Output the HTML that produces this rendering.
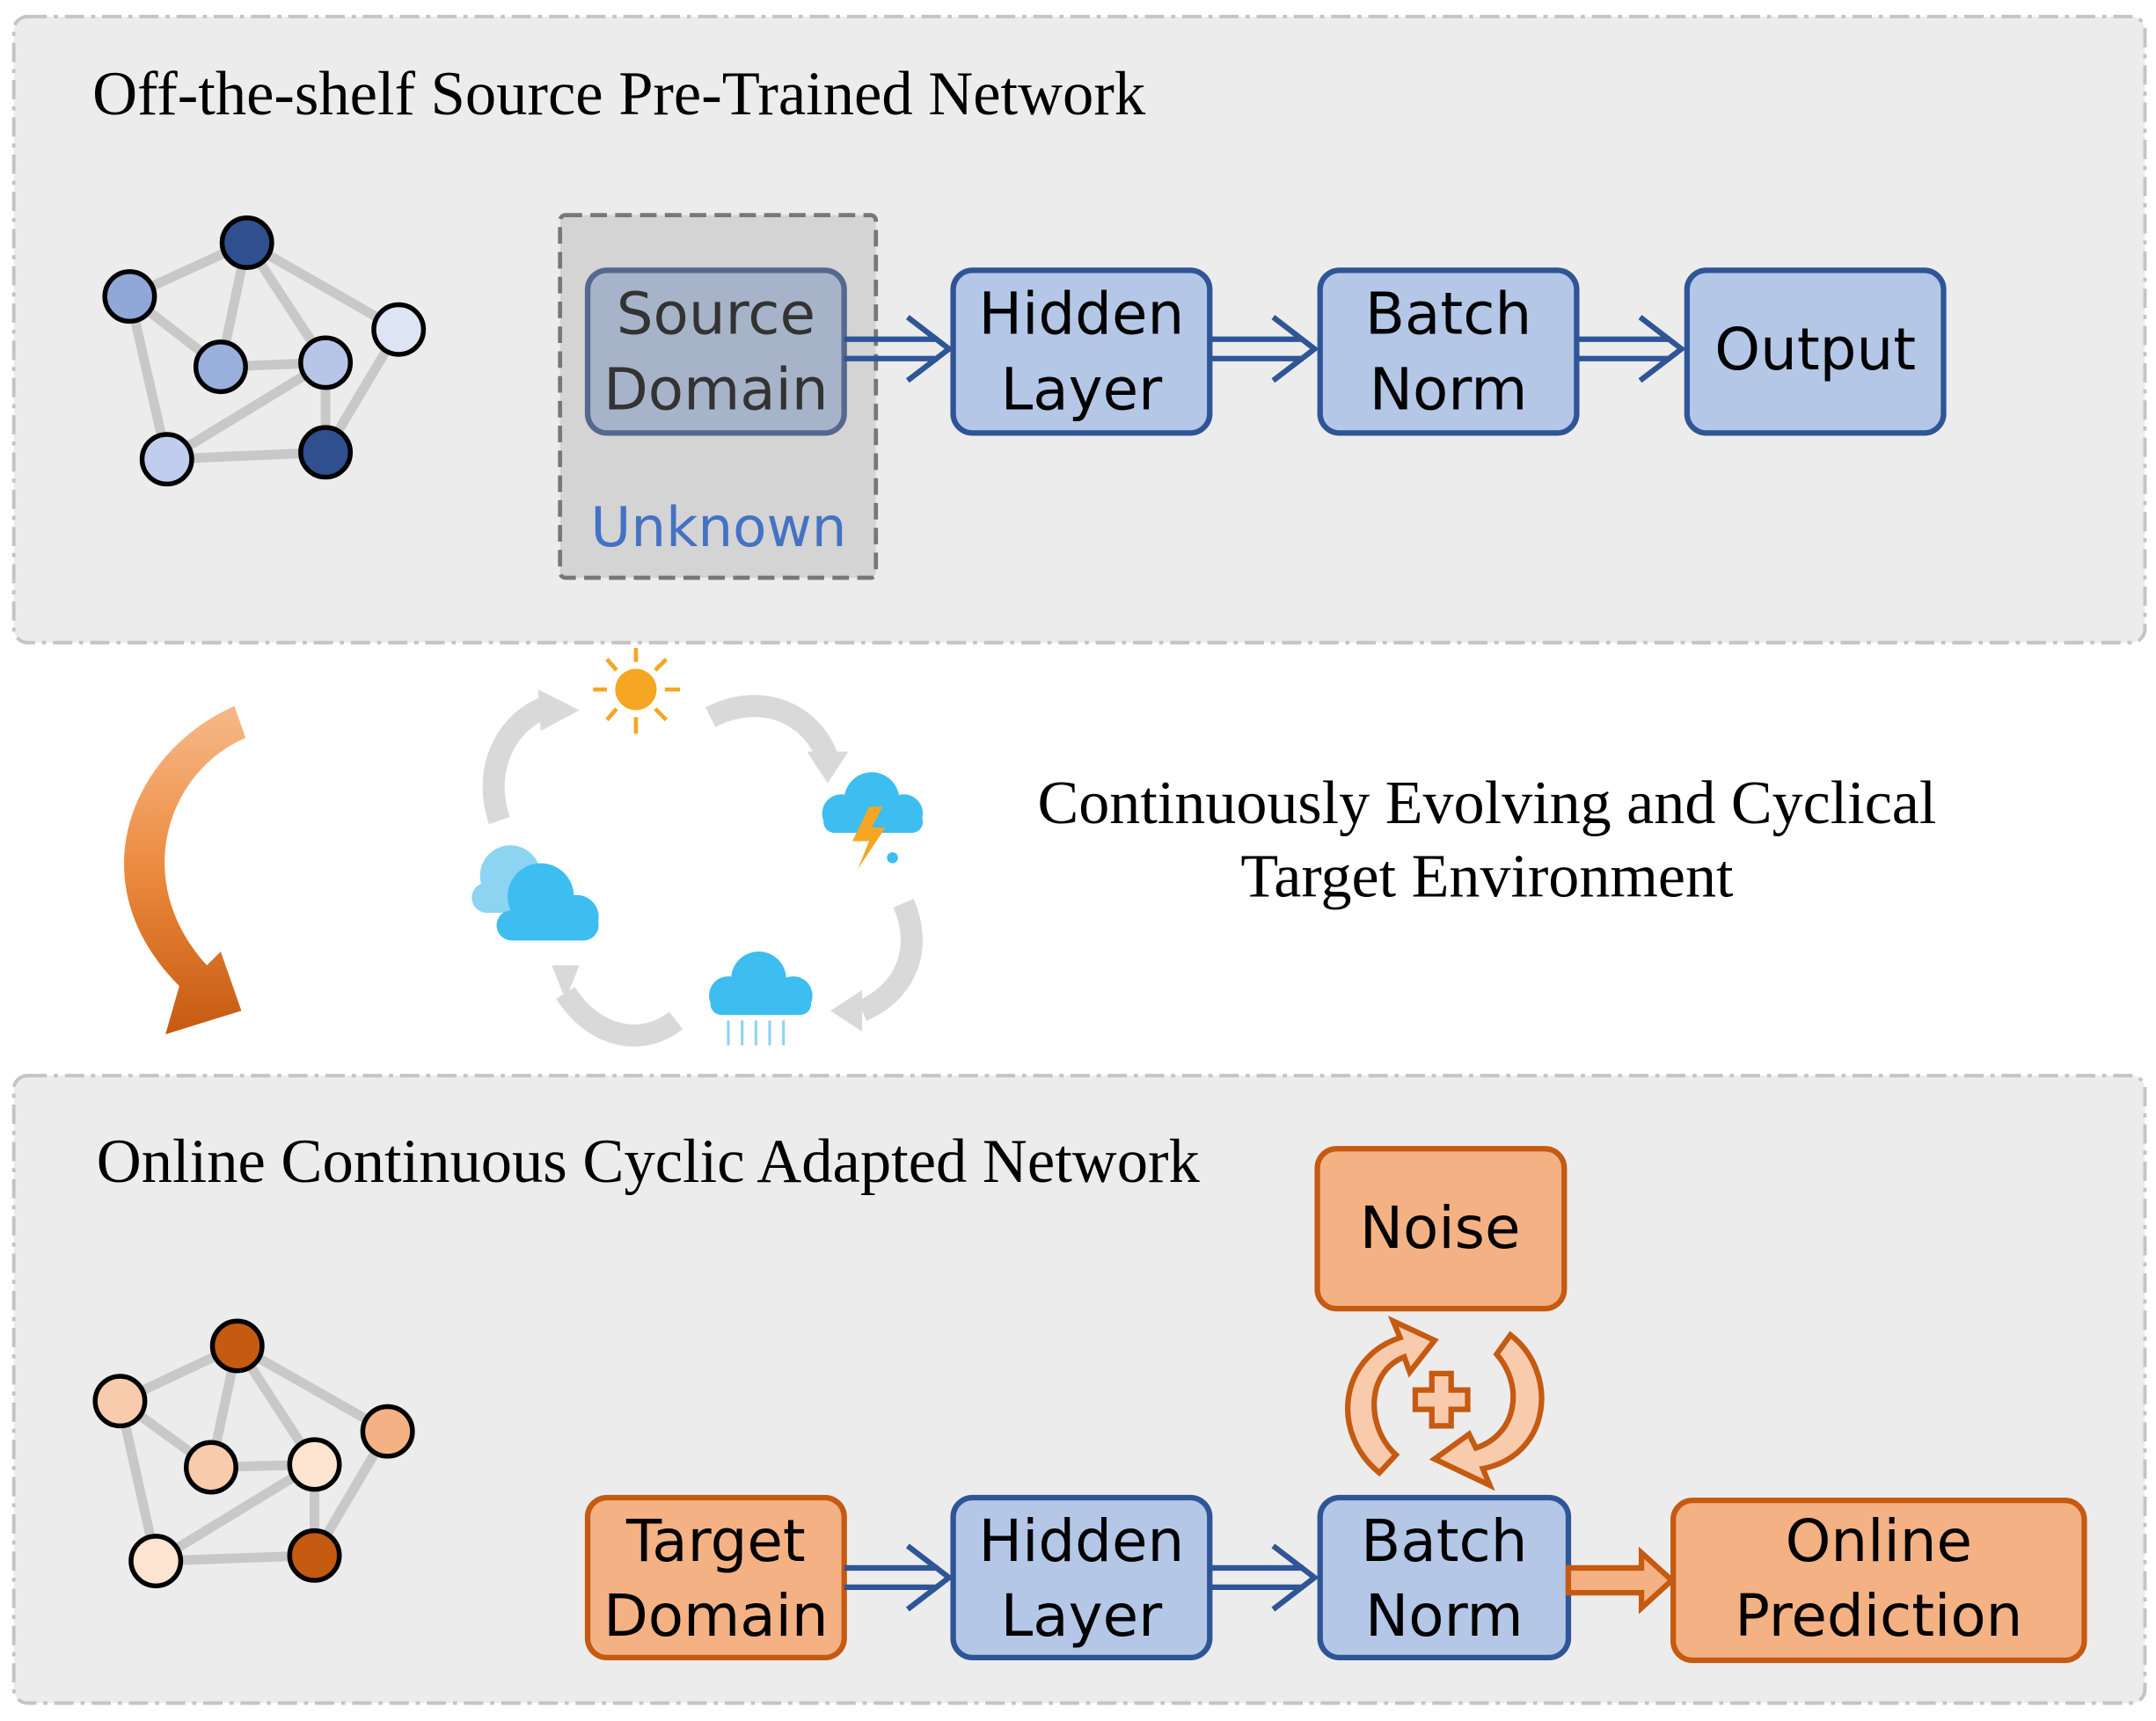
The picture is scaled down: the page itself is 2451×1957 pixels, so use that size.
<!DOCTYPE html>
<html><head><meta charset="utf-8"><style>
html,body{margin:0;padding:0;background:#fff}
svg{display:block}
.t{font-family:"Liberation Serif",serif;fill:#000}
.b{font-family:"DejaVu Sans","Liberation Sans",sans-serif;font-size:42px;fill:#000;text-anchor:middle}
</style></head><body>
<svg width="2451" height="1957" viewBox="0 0 1563 1248" preserveAspectRatio="none" xmlns="http://www.w3.org/2000/svg">
<defs>
<linearGradient id="og" x1="0" y1="0" x2="0" y2="1"><stop offset="0" stop-color="#f6b98a"/><stop offset="0.5" stop-color="#ec8a3d"/><stop offset="1" stop-color="#c55a11"/></linearGradient>
</defs>
<!-- panels -->
<rect x="10" y="12" width="1545" height="454" rx="10" fill="#ececec" stroke="#c4c4c4" stroke-width="2.5" stroke-dasharray="14 5 3 5"/>
<rect x="10" y="780" width="1545" height="455" rx="10" fill="#ececec" stroke="#c4c4c4" stroke-width="2.5" stroke-dasharray="14 5 3 5"/>
<text class="t" x="67" y="83" font-size="45">Off-the-shelf Source Pre-Trained Network</text>
<text class="t" x="70" y="857" font-size="45">Online Continuous Cyclic Adapted Network</text>

<!-- top graph -->
<g stroke="#c8c8c8" stroke-width="7">
<line x1="94" y1="215" x2="179" y2="176"/><line x1="179" y1="176" x2="289" y2="239"/><line x1="179" y1="176" x2="160" y2="266"/><line x1="179" y1="176" x2="236" y2="263"/><line x1="94" y1="215" x2="160" y2="266"/><line x1="94" y1="215" x2="121" y2="333"/><line x1="160" y1="266" x2="236" y2="263"/><line x1="289" y1="239" x2="236" y2="328"/><line x1="121" y1="333" x2="236" y2="328"/><line x1="121" y1="333" x2="236" y2="263"/><line x1="236" y1="263" x2="236" y2="328"/>
</g>
<g stroke="#000" stroke-width="3.5">
<circle cx="179" cy="176" r="18" fill="#2f4f8f"/><circle cx="94" cy="215" r="18" fill="#8fa8d8"/><circle cx="289" cy="239" r="18" fill="#dde4f4"/><circle cx="160" cy="266" r="18" fill="#9ab0dc"/><circle cx="236" cy="263" r="18" fill="#b7c6e8"/><circle cx="121" cy="333" r="18" fill="#c0cdee"/><circle cx="236" cy="328" r="18" fill="#2f4f8f"/>
</g>

<!-- bottom graph -->
<g stroke="#c8c8c8" stroke-width="7">
<line x1="87" y1="1016" x2="172" y2="976"/><line x1="172" y1="976" x2="281" y2="1038"/><line x1="172" y1="976" x2="153" y2="1064"/><line x1="172" y1="976" x2="228" y2="1062"/><line x1="87" y1="1016" x2="153" y2="1064"/><line x1="87" y1="1016" x2="113" y2="1132"/><line x1="153" y1="1064" x2="228" y2="1062"/><line x1="281" y1="1038" x2="228" y2="1128"/><line x1="113" y1="1132" x2="228" y2="1128"/><line x1="113" y1="1132" x2="228" y2="1062"/><line x1="228" y1="1062" x2="228" y2="1128"/>
</g>
<g stroke="#000" stroke-width="3.5">
<circle cx="172" cy="976" r="18" fill="#c55a11"/><circle cx="87" cy="1016" r="18" fill="#f8cbad"/><circle cx="281" cy="1038" r="18" fill="#f4b183"/><circle cx="153" cy="1064" r="18" fill="#f8cbad"/><circle cx="228" cy="1062" r="18" fill="#fde4d0"/><circle cx="113" cy="1132" r="18" fill="#fde4d0"/><circle cx="228" cy="1128" r="18" fill="#c55a11"/>
</g>

<!-- unknown box -->
<rect x="406" y="156" width="229" height="263" rx="4" fill="#d4d4d4" stroke="#777" stroke-width="3" stroke-dasharray="12 6"/>
<rect x="426" y="196" width="186" height="118" rx="14" fill="#a7b3c9" stroke="#55688f" stroke-width="4"/>
<text class="b" x="519" y="242" style="fill:#333">Source</text>
<text class="b" x="519" y="297" style="fill:#333">Domain</text>
<text class="b" x="521" y="396" style="fill:#4472c4;font-size:40px">Unknown</text>

<!-- boxes -->
<g fill="#b4c7e7" stroke="#2f5597" stroke-width="4">
<rect x="691" y="196" width="186" height="118" rx="14"/>
<rect x="957" y="196" width="186" height="118" rx="14"/>
<rect x="1223" y="196" width="186" height="118" rx="14"/>
<rect x="691" y="1086" width="186" height="116" rx="14"/>
<rect x="957" y="1086" width="180" height="116" rx="14"/>
</g>
<text class="b" x="784" y="242">Hidden</text><text class="b" x="784" y="297">Layer</text>
<text class="b" x="1050" y="242">Batch</text><text class="b" x="1050" y="297">Norm</text>
<text class="b" x="1316" y="268">Output</text>
<text class="b" x="784" y="1132">Hidden</text><text class="b" x="784" y="1186">Layer</text>
<text class="b" x="1047" y="1132">Batch</text><text class="b" x="1047" y="1186">Norm</text>

<g fill="#f4b183" stroke="#c55a11" stroke-width="4">
<rect x="426" y="1086" width="186" height="116" rx="14"/>
<rect x="1213" y="1088" width="298" height="116" rx="14"/>
<rect x="955" y="833" width="179" height="116" rx="14"/>
</g>
<text class="b" x="519" y="1132">Target</text><text class="b" x="519" y="1186">Domain</text>
<text class="b" x="1362" y="1132">Online</text><text class="b" x="1362" y="1186">Prediction</text>
<text class="b" x="1044" y="905">Noise</text>

<!-- double arrows -->
<g fill="none" stroke="#2f5597" stroke-width="4">
<path d="M612 246H680M612 260H680M658 230L688 253L658 276"/>
<path d="M877 246H945M877 260H945M923 230L953 253L923 276"/>
<path d="M1143 246H1211M1143 260H1211M1189 230L1219 253L1189 276"/>
<path d="M612 1137H680M612 1151H680M658 1121L688 1144L658 1167"/>
<path d="M877 1137H945M877 1151H945M923 1121L953 1144L923 1167"/>
</g>
<path d="M1137 1137H1190V1126L1212 1146L1190 1166V1155H1137Z" fill="#f4b183" stroke="#c55a11" stroke-width="4"/>

<!-- noise cycle arrows -->
<path d="M1000 1068 C965 1040 970 985 1015 970 L1010 958 L1040 972 L1022 995 L1018 984 C990 995 990 1035 1012 1055 Z" fill="#f8cbad" stroke="#c55a11" stroke-width="4"/>
<path d="M1095 968 C1130 995 1125 1055 1075 1065 L1080 1077 L1040 1058 L1065 1040 L1070 1050 C1100 1040 1105 1005 1085 982 Z" fill="#f8cbad" stroke="#c55a11" stroke-width="4"/>
<path d="M1038 996H1052V1008H1064V1022H1052V1034H1038V1022H1026V1008H1038Z" fill="#f8cbad" stroke="#c55a11" stroke-width="4"/>

<!-- orange curved arrow -->
<path d="M170 512 C95 545 55 640 130 715 L120 750 L175 733 L160 690 L150 700 C95 640 120 560 178 535 Z" fill="url(#og)"/>

<!-- weather cycle -->
<g fill="none" stroke="#d9d9d9" stroke-width="16">
<path d="M362 595 C350 560 365 525 395 513"/>
<path d="M515 520 C555 500 590 520 600 550"/>
<path d="M655 655 C670 690 655 720 625 733"/>
<path d="M490 740 C465 760 430 752 410 720"/>
</g>
<g fill="#d9d9d9">
<path d="M390 500L420 515L392 530Z"/><path d="M585 545L615 545L600 568Z"/><path d="M625 718L625 748L602 733Z"/><path d="M400 700L420 700L410 725Z"/>
</g>
<g stroke="#f5a623" stroke-width="3">
<line x1="461" y1="470" x2="461" y2="480"/><line x1="461" y1="520" x2="461" y2="532"/><line x1="430" y1="500" x2="440" y2="500"/><line x1="482" y1="500" x2="493" y2="500"/><line x1="440" y1="478" x2="447" y2="486"/><line x1="475" y1="514" x2="483" y2="522"/><line x1="440" y1="522" x2="447" y2="514"/><line x1="475" y1="486" x2="483" y2="478"/>
</g>
<circle cx="461" cy="500" r="15" fill="#f5a623"/>
<g fill="#3dbdf0">
<circle cx="632" cy="580" r="20"/><circle cx="610" cy="590" r="14"/><circle cx="655" cy="590" r="14"/><rect x="597" y="588" width="72" height="16" rx="8"/>
</g>
<path d="M630 585L618 610H630L622 630L642 600H632L640 585Z" fill="#f5a623"/>
<circle cx="647" cy="622" r="4" fill="#3dbdf0"/>
<g fill="#8dd3f2"><circle cx="370" cy="635" r="22"/><rect x="342" y="640" width="60" height="22" rx="11"/></g>
<g fill="#3dbdf0"><circle cx="392" cy="650" r="24"/><circle cx="418" cy="665" r="16"/><rect x="360" y="660" width="74" height="22" rx="11"/></g>
<g fill="#3dbdf0"><circle cx="550" cy="710" r="20"/><circle cx="528" cy="722" r="14"/><circle cx="575" cy="722" r="14"/><rect x="515" y="720" width="73" height="16" rx="8"/></g>
<g stroke="#8dd3f2" stroke-width="2"><line x1="528" y1="740" x2="528" y2="758"/><line x1="538" y1="740" x2="538" y2="758"/><line x1="548" y1="740" x2="548" y2="758"/><line x1="558" y1="740" x2="558" y2="758"/><line x1="568" y1="740" x2="568" y2="758"/></g>

<text class="t" x="1078" y="597" font-size="44.7" text-anchor="middle">Continuously Evolving and Cyclical</text>
<text class="t" x="1078" y="650" font-size="44.7" text-anchor="middle">Target Environment</text>
</svg>
</body></html>
